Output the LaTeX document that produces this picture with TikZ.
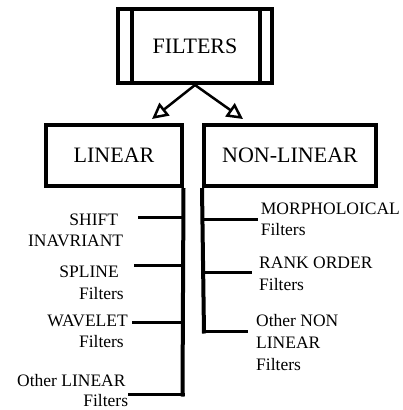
\documentclass[tikz,border=0pt]{standalone}
\usepackage{fontspec}
\setmainfont{Liberation Serif}
\usetikzlibrary{arrows.meta}
\begin{document}
\begin{tikzpicture}[x=1pt,y=-1pt,
  bigbox/.style={draw,line width=4pt,font=\fontsize{22}{26}\selectfont,inner sep=0pt},
  lbl/.style={inner sep=0pt,font=\fontsize{17.5}{21}\selectfont},
  lblr/.style={lbl,anchor=base east},
  lbll/.style={lbl,anchor=base west},
  spine/.style={line width=4pt},
  branch/.style={line width=3pt},
  arr/.style={line width=2.5pt,-{Triangle[open,length=16pt,width=16pt,line width=2.5pt]}}]
\useasboundingbox (0,0) rectangle (403,410);
% top box
\node[bigbox,minimum width=154pt,minimum height=74pt] (f) at (195,46) {FILTERS};
\draw[line width=4pt] ([xshift=16pt]f.north west) -- ([xshift=16pt]f.south west);
\draw[line width=4pt] ([xshift=-14pt]f.north east) -- ([xshift=-14pt]f.south east);
% second level
\node[bigbox,minimum width=136pt,minimum height=61pt] (lin) at (114,155.5) {LINEAR};
\node[bigbox,minimum width=172pt,minimum height=61pt] (nl) at (290,155.5) {NON-LINEAR};
\coordinate (ta) at (152,119);
\coordinate (tb) at (243,119);
\draw[arr] (f.south) -- (ta);
\draw[arr] (f.south) -- (tb);
% linear spine
\coordinate (lend) at (182.5,396.5);
\draw[spine] ([xshift=-0.5pt]lin.south east) -- (lend);
\coordinate (l1) at (182.5,217.5); \coordinate (l1e) at (138,217.5);
\coordinate (l2) at (182.5,265);   \coordinate (l2e) at (134,265);
\coordinate (l3) at (182.5,322.5); \coordinate (l3e) at (132,322.5);
\coordinate (l4) at (184.5,394.5); \coordinate (l4e) at (128,394.5);
\draw[branch] (l1) -- (l1e);
\draw[branch] (l2) -- (l2e);
\draw[branch] (l3) -- (l3e);
\draw[branch] (l4) -- (l4e);
\node[lblr] (a1) at (118.3,225) {SHIFT};
\node[lblr] (a2) at (123.3,246) {INAVRIANT};
\node[lblr] (b1) at (119,277.7) {SPLINE};
\node[lblr] (b2) at (124,299) {Filters};
\node[lblr] (c1) at (128,326) {WAVELET};
\node[lblr] (c2) at (124,347) {Filters};
\node[lblr] (d1) at (125.7,386) {Other LINEAR};
\node[lblr] (d2) at (128.3,406.5) {Filters};
% non-linear spine
\coordinate (nend) at (204,333.5);
\draw[spine] (nl.south west) -- (nend);
\coordinate (n1) at (204,219);   \coordinate (n1e) at (258,219);
\coordinate (n2) at (204,272.5); \coordinate (n2e) at (252,272.5);
\coordinate (n3) at (202,331.5); \coordinate (n3e) at (248,331.5);
\draw[branch] (n1) -- (n1e);
\draw[branch] (n2) -- (n2e);
\draw[branch] (n3) -- (n3e);
\node[lbll] (m1) at (260.7,214) {MORPHOLOICAL};
\node[lbll] (m2) at (260.7,235) {Filters};
\node[lbll] (r1) at (259,268) {RANK ORDER};
\node[lbll] (r2) at (259,290) {Filters};
\node[lbll] (o1) at (256,326) {Other NON};
\node[lbll] (o2) at (256,348) {LINEAR};
\node[lbll] (o3) at (256,370) {Filters};
\end{tikzpicture}
\end{document}
